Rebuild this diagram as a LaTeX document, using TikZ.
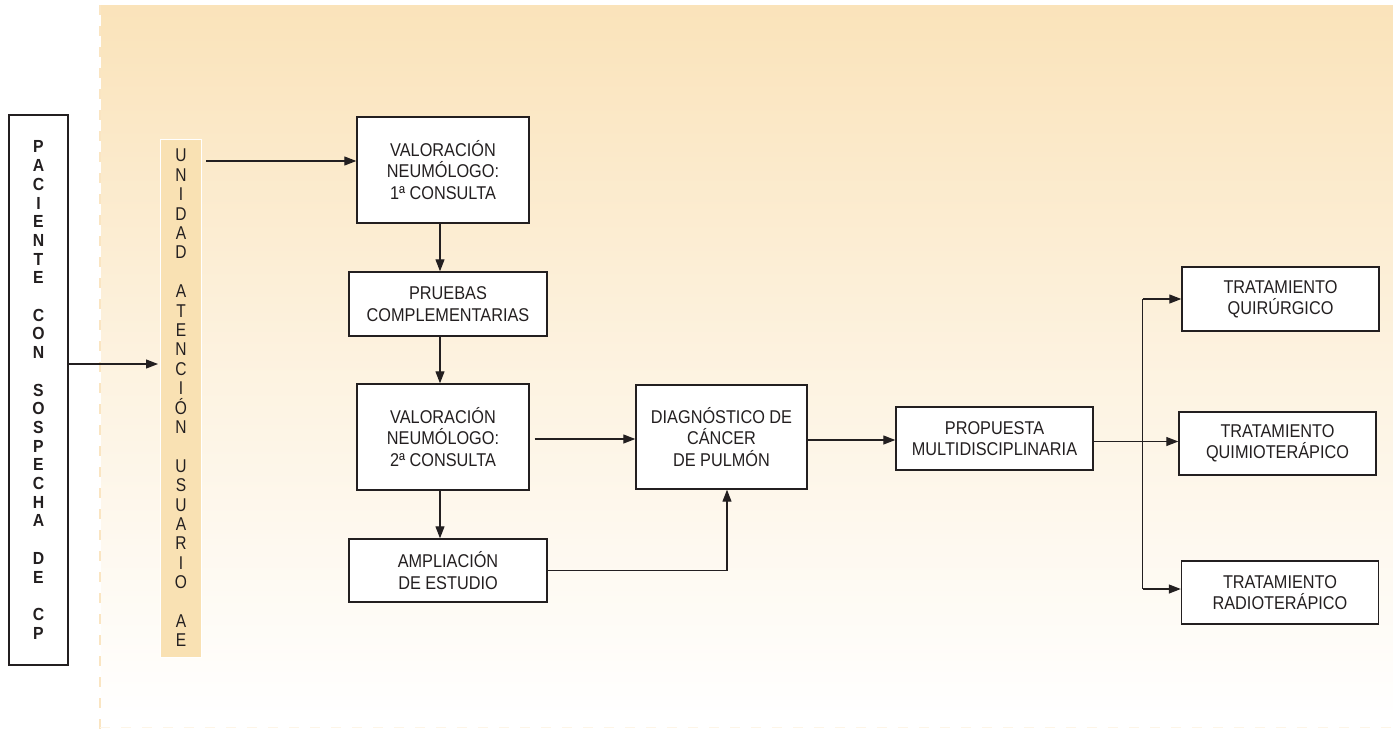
\documentclass[tikz,border=0pt]{standalone}
\usepackage{fontspec}
\setmainfont{Liberation Sans}[FakeStretch=0.88]
\newfontfamily\pacfont{Liberation Sans}[FakeStretch=0.9]
\newfontfamily\unifont{Liberation Sans}[FakeStretch=0.84]
\usetikzlibrary{arrows.meta,calc}
\definecolor{bgtop}{HTML}{FAE3BA}
\definecolor{unifill}{HTML}{F9E1B3}
\definecolor{dashcol}{HTML}{FAE5C2}
\definecolor{ink}{HTML}{231F20}
\tikzset{
  box/.style={draw=ink, line width=1.4pt, fill=white, align=center, inner sep=0pt,
    text=ink, font=\fontsize{18.5}{21.3}\selectfont},
  arr/.style={draw=ink, line width=1.2pt, -{Triangle[length=12pt,width=9pt]}},
  ln/.style={draw=ink, line width=1.2pt}
}
\begin{document}
\begin{tikzpicture}[x=1pt,y=-1pt]
\useasboundingbox (0,0) rectangle (1393,729);
\shade[top color=bgtop, bottom color=white, middle color=bgtop!45] (101,5) rectangle (1393,724);
\draw[dashcol, line width=2pt, dash pattern=on 10pt off 11pt] (100,5) -- (100,729);
\draw[dashcol!40, line width=1pt, dash pattern=on 10pt off 11pt] (100,727.5) -- (1393,727.5);

\node[box, minimum width=59pt, minimum height=550pt,
  font=\pacfont\bfseries\fontsize{17.5}{18.7}\selectfont] (pac) at (38.5,390)
  {P\\A\\C\\I\\E\\N\\T\\E\\[18.7pt]C\\O\\N\\[18.7pt]S\\O\\S\\P\\E\\C\\H\\A\\[18.7pt]D\\E\\[18.7pt]C\\P};

\node[draw=white, line width=1pt, fill=unifill, minimum width=41pt, minimum height=518pt,
  inner sep=0pt, align=center, text=ink,
  font=\unifont\fontsize{18.5}{19.4}\selectfont] (uni) at (181,398)
  {U\\N\\I\\D\\A\\D\\[19.4pt]A\\T\\E\\N\\C\\I\\Ó\\N\\[19.4pt]U\\S\\U\\A\\R\\I\\O\\[19.4pt]A\\E};

\node[box, minimum width=172pt, minimum height=106pt] (val1) at (443,170) {VALORACIÓN\\NEUMÓLOGO:\\1ª CONSULTA};
\node[box, minimum width=198pt, minimum height=64pt] (pru) at (448,304) {PRUEBAS\\COMPLEMENTARIAS};
\node[box, minimum width=172pt, minimum height=106pt] (val2) at (443,437) {VALORACIÓN\\NEUMÓLOGO:\\2ª CONSULTA};
\node[box, minimum width=198pt, minimum height=63pt] (ampl) at (448,570.5) {AMPLIACIÓN\\DE ESTUDIO};
\node[box, minimum width=171pt, minimum height=104pt] (diag) at (721.5,437) {DIAGNÓSTICO DE\\CÁNCER\\DE PULMÓN};
\node[box, minimum width=197pt, minimum height=63pt] (prop) at (994.5,438.5) {PROPUESTA\\MULTIDISCIPLINARIA};
\node[box, minimum width=197pt, minimum height=64pt] (quir) at (1280.5,299) {TRATAMIENTO\\QUIRÚRGICO};
\node[box, minimum width=197pt, minimum height=63pt] (quim) at (1277.5,443.5) {TRATAMIENTO\\QUIMIOTERÁPICO};
\node[box, minimum width=197pt, minimum height=63pt] (radio) at (1280,592.5) {TRATAMIENTO\\RADIOTERÁPICO};

% connectors
\coordinate (p1) at ([yshift=26pt]pac.east);
\draw[arr] (p1) -- ([xshift=-2pt]p1 -| uni.west);
\coordinate (u1) at ([xshift=4pt,yshift=237pt]uni.east);
\draw[arr] (u1) -- (u1 -| val1.west);

\draw[arr] ([xshift=-3pt]val1.south) -- ([xshift=-3pt]val1.south |- pru.north);
\draw[arr] ([xshift=-3pt]val1.south |- pru.south) -- ([xshift=-3pt]val2.north);
\draw[arr] ([xshift=-3pt]val2.south) -- ([xshift=-3pt]val2.south |- ampl.north);

\draw[arr] ([xshift=5pt,yshift=-2pt]val2.east) -- ([yshift=-2pt]val2.east -| diag.west);
\draw[arr] (ampl.east) -| ([xshift=5.5pt]diag.south);
\draw[arr] ([yshift=-3pt]diag.east) -- ([yshift=-3pt]diag.east -| prop.west);

\coordinate (pe) at ([yshift=-3pt]prop.east);
\draw[arr] (pe) -- (pe -| quim.west);
\coordinate (br) at ([xshift=49pt]pe);
\draw[ln] (br |- quir.west) -- ([yshift=3.5pt]br |- radio.west);
\draw[arr] (br |- quir.west) -- (quir.west);
\draw[arr] ([yshift=3.5pt]br |- radio.west) -- ([yshift=3.5pt]radio.west);
\end{tikzpicture}
\end{document}
